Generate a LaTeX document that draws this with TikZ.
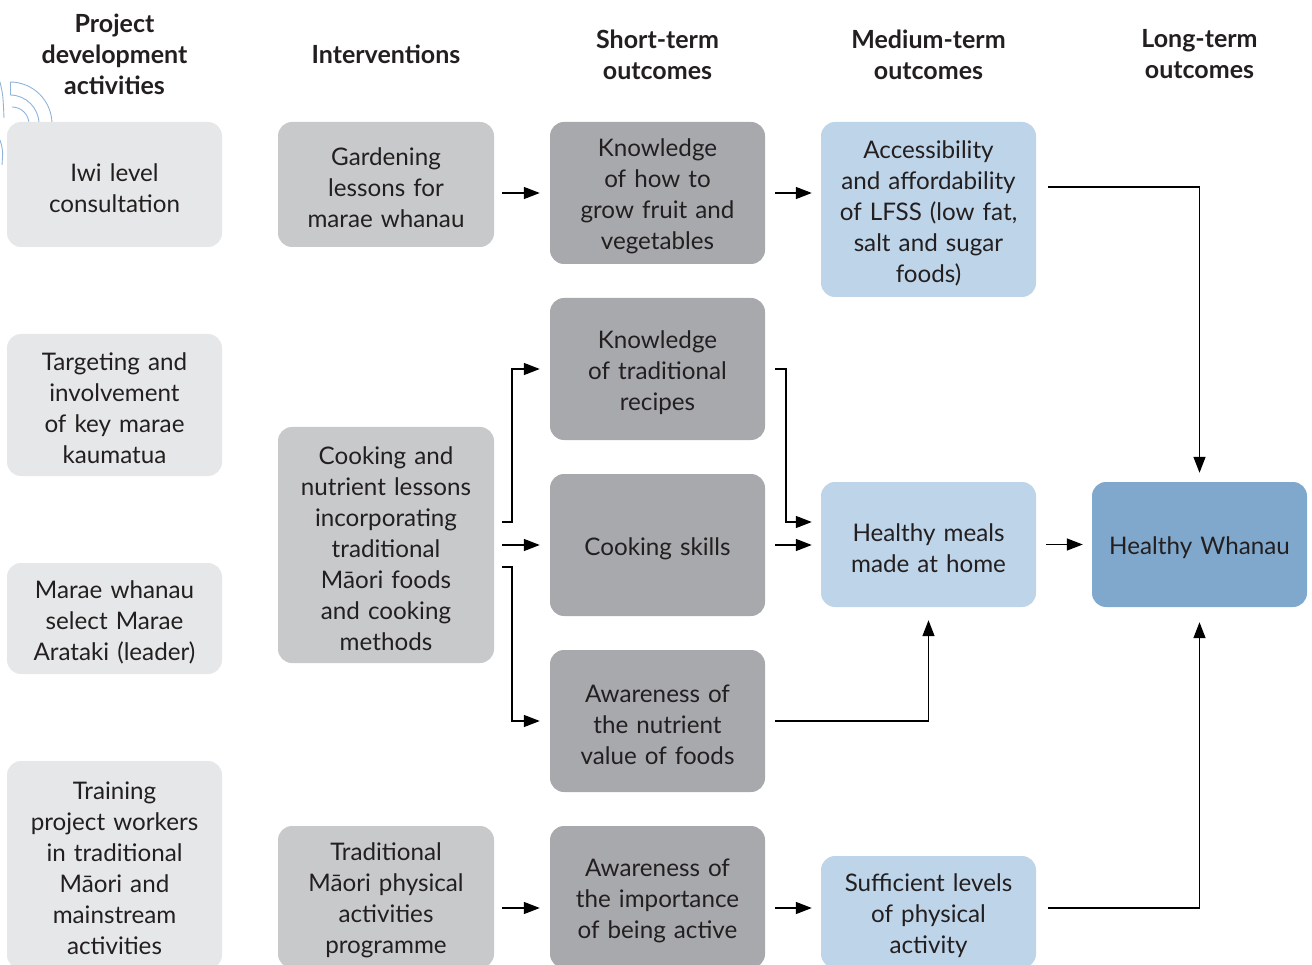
\documentclass[tikz,border=0pt]{standalone}
\usepackage{fontspec}
\setmainfont{Lato}
\usetikzlibrary{arrows.meta}
\definecolor{txt}{HTML}{231F20}
\definecolor{cA}{HTML}{E6E7E8}
\definecolor{cB}{HTML}{C8C9CB}
\definecolor{cC}{HTML}{A7A9AC}
\definecolor{cD}{HTML}{BED4E8}
\definecolor{cE}{HTML}{80A8CD}
\definecolor{arcblue}{HTML}{8FB4DA}
\tikzset{
  box/.style={rounded corners=14pt, inner sep=0pt, minimum width=215pt, text width=210pt, align=center, text=txt, font=\fontsize{24.2}{31}\selectfont, execute at begin node={\rule{0pt}{25pt}}},
  colA/.style={box, fill=cA},
  colB/.style={box, fill=cB},
  colC/.style={box, fill=cC},
  colD/.style={box, fill=cD},
  colE/.style={box, fill=cE},
  head/.style={align=center, text=txt, font=\fontsize{25}{31}\selectfont\bfseries},
  arr/.style={draw=black, line width=1.4pt, -{Triangle[length=16pt,width=12pt]}},
  logoarc/.style={draw=arcblue, line width=0.9pt}
}
\begin{document}
\begin{tikzpicture}[x=1pt,y=-1pt]
\useasboundingbox (0,0) rectangle (1312,965);
% partial logo arcs
\draw[logoarc] (10pt,-82pt) arc[start angle=90,end angle=0,radius=42pt];
\draw[logoarc] (10pt,-95pt) arc[start angle=90,end angle=0,radius=29pt];
\draw[logoarc] (12pt,-107pt) arc[start angle=90,end angle=0,radius=17pt];
\draw[logoarc] (10pt,-82pt) -- (10pt,-95pt);
\draw[logoarc] (0pt,-82pt) .. controls (3pt,-95pt) .. (4pt,-118pt);
\draw[logoarc] (0pt,-140pt) .. controls (3pt,-150pt) .. (2pt,-165pt);
% headers
\node[head] (h1) at (114.5,54) {Project\\development\\activities};
\node[head] (h2) at (386,54) {Interventions};
\node[head] (h3) at (657.5,54.5) {Short-term\\outcomes};
\node[head] (h4) at (928.5,54.5) {Medium-term\\outcomes};
\node[head] (h5) at (1199.5,54.5) {Long-term\\outcomes};
% column 1
\node[colA, minimum height=125pt] (iwi) at (114.5,184.5) {Iwi level\\consultation};
\node[colA, minimum height=142pt] (targ) at (114.5,405) {Targeting and\\involvement\\of key marae\\kaumatua};
\node[colA, minimum height=111pt] (sel) at (114.5,618.5) {Marae whanau\\select Marae\\Arataki (leader)};
\node[colA, minimum height=208pt] (train) at (114.5,865) {Training\\project workers\\in traditional\\Māori and\\mainstream\\activities};
% column 2
\node[colB, minimum width=216pt, minimum height=125pt] (garden) at (386,184.5) {Gardening\\lessons for\\marae whanau};
\node[colB, minimum width=216pt, minimum height=236pt] (cook) at (386,545) {Cooking and\\nutrient lessons\\incorporating\\traditional\\Māori foods\\and cooking\\methods};
\node[colB, minimum width=216pt, minimum height=142pt] (trad) at (386,897) {Traditional\\Māori physical\\activities\\programme};
% column 3
\node[colC, minimum height=142pt] (kg) at (657.5,193) {Knowledge\\of how to\\grow fruit and\\vegetables};
\node[colC, minimum height=142pt] (kt) at (657.5,369) {Knowledge\\of traditional\\recipes};
\node[colC, minimum height=142pt] (cs) at (657.5,545) {Cooking skills};
\node[colC, minimum height=142pt] (an) at (657.5,721) {Awareness of\\the nutrient\\value of foods};
\node[colC, minimum height=142pt] (ai) at (657.5,897) {Awareness of\\the importance\\of being active};
% column 4
\node[colD, minimum height=175pt] (acc) at (928.5,209.5) {Accessibility\\and affordability\\of LFSS (low fat,\\salt and sugar\\foods)};
\node[colD, minimum height=125pt] (hm) at (928.5,544.5) {Healthy meals\\made at home};
\node[colD, minimum height=112pt] (suf) at (928.5,912) {Sufficient levels\\of physical\\activity};
% column 5
\node[colE, minimum height=125pt] (hw) at (1199.5,544.5) {Healthy Whanau};
% connectors
\draw[arr, shorten <=8pt, shorten >=10pt] ([yshift=-8.5pt]garden.east) -- ([yshift=-8.5pt]garden.east -| kg.west);
\draw[arr, shorten <=10pt, shorten >=9pt] (kg.east) -- (kg.east -| acc.west);
\draw[arr, shorten >=10pt] ([xshift=8pt,yshift=23pt]cook.east) -| ([xshift=-38pt]kt.west) -- (kt.west);
\draw[arr, shorten <=8pt, shorten >=10pt] (cook.east) -- (cs.west);
\draw[arr, shorten >=10pt] ([xshift=8pt,yshift=-22pt]cook.east) -| ([xshift=-38pt]an.west) -- (an.west);
\draw[arr, shorten >=9pt] ([xshift=10pt]kt.east) -| ([xshift=-35pt,yshift=22.5pt]hm.west) -- ([yshift=22.5pt]hm.west);
\draw[arr, shorten <=10pt, shorten >=9pt] (cs.east) -- (cs.east -| hm.west);
\draw[arr, shorten >=13pt] ([xshift=10pt]an.east) -| (hm.south);
\draw[arr, shorten <=10pt, shorten >=9pt] (hm.east) -- (hw.west);
\draw[arr, shorten >=9pt] ([xshift=12pt,yshift=22.5pt]acc.east) -| (hw.north);
\draw[arr, shorten >=15pt] ([xshift=12pt,yshift=4pt]suf.east) -| (hw.south);
\draw[arr, shorten <=8pt, shorten >=10pt] ([yshift=-11pt]trad.east) -- ([yshift=-11pt]trad.east -| ai.west);
\draw[arr, shorten <=10pt, shorten >=9pt] ([yshift=-11pt]ai.east) -- ([yshift=-11pt]ai.east -| suf.west);
\end{tikzpicture}
\end{document}
